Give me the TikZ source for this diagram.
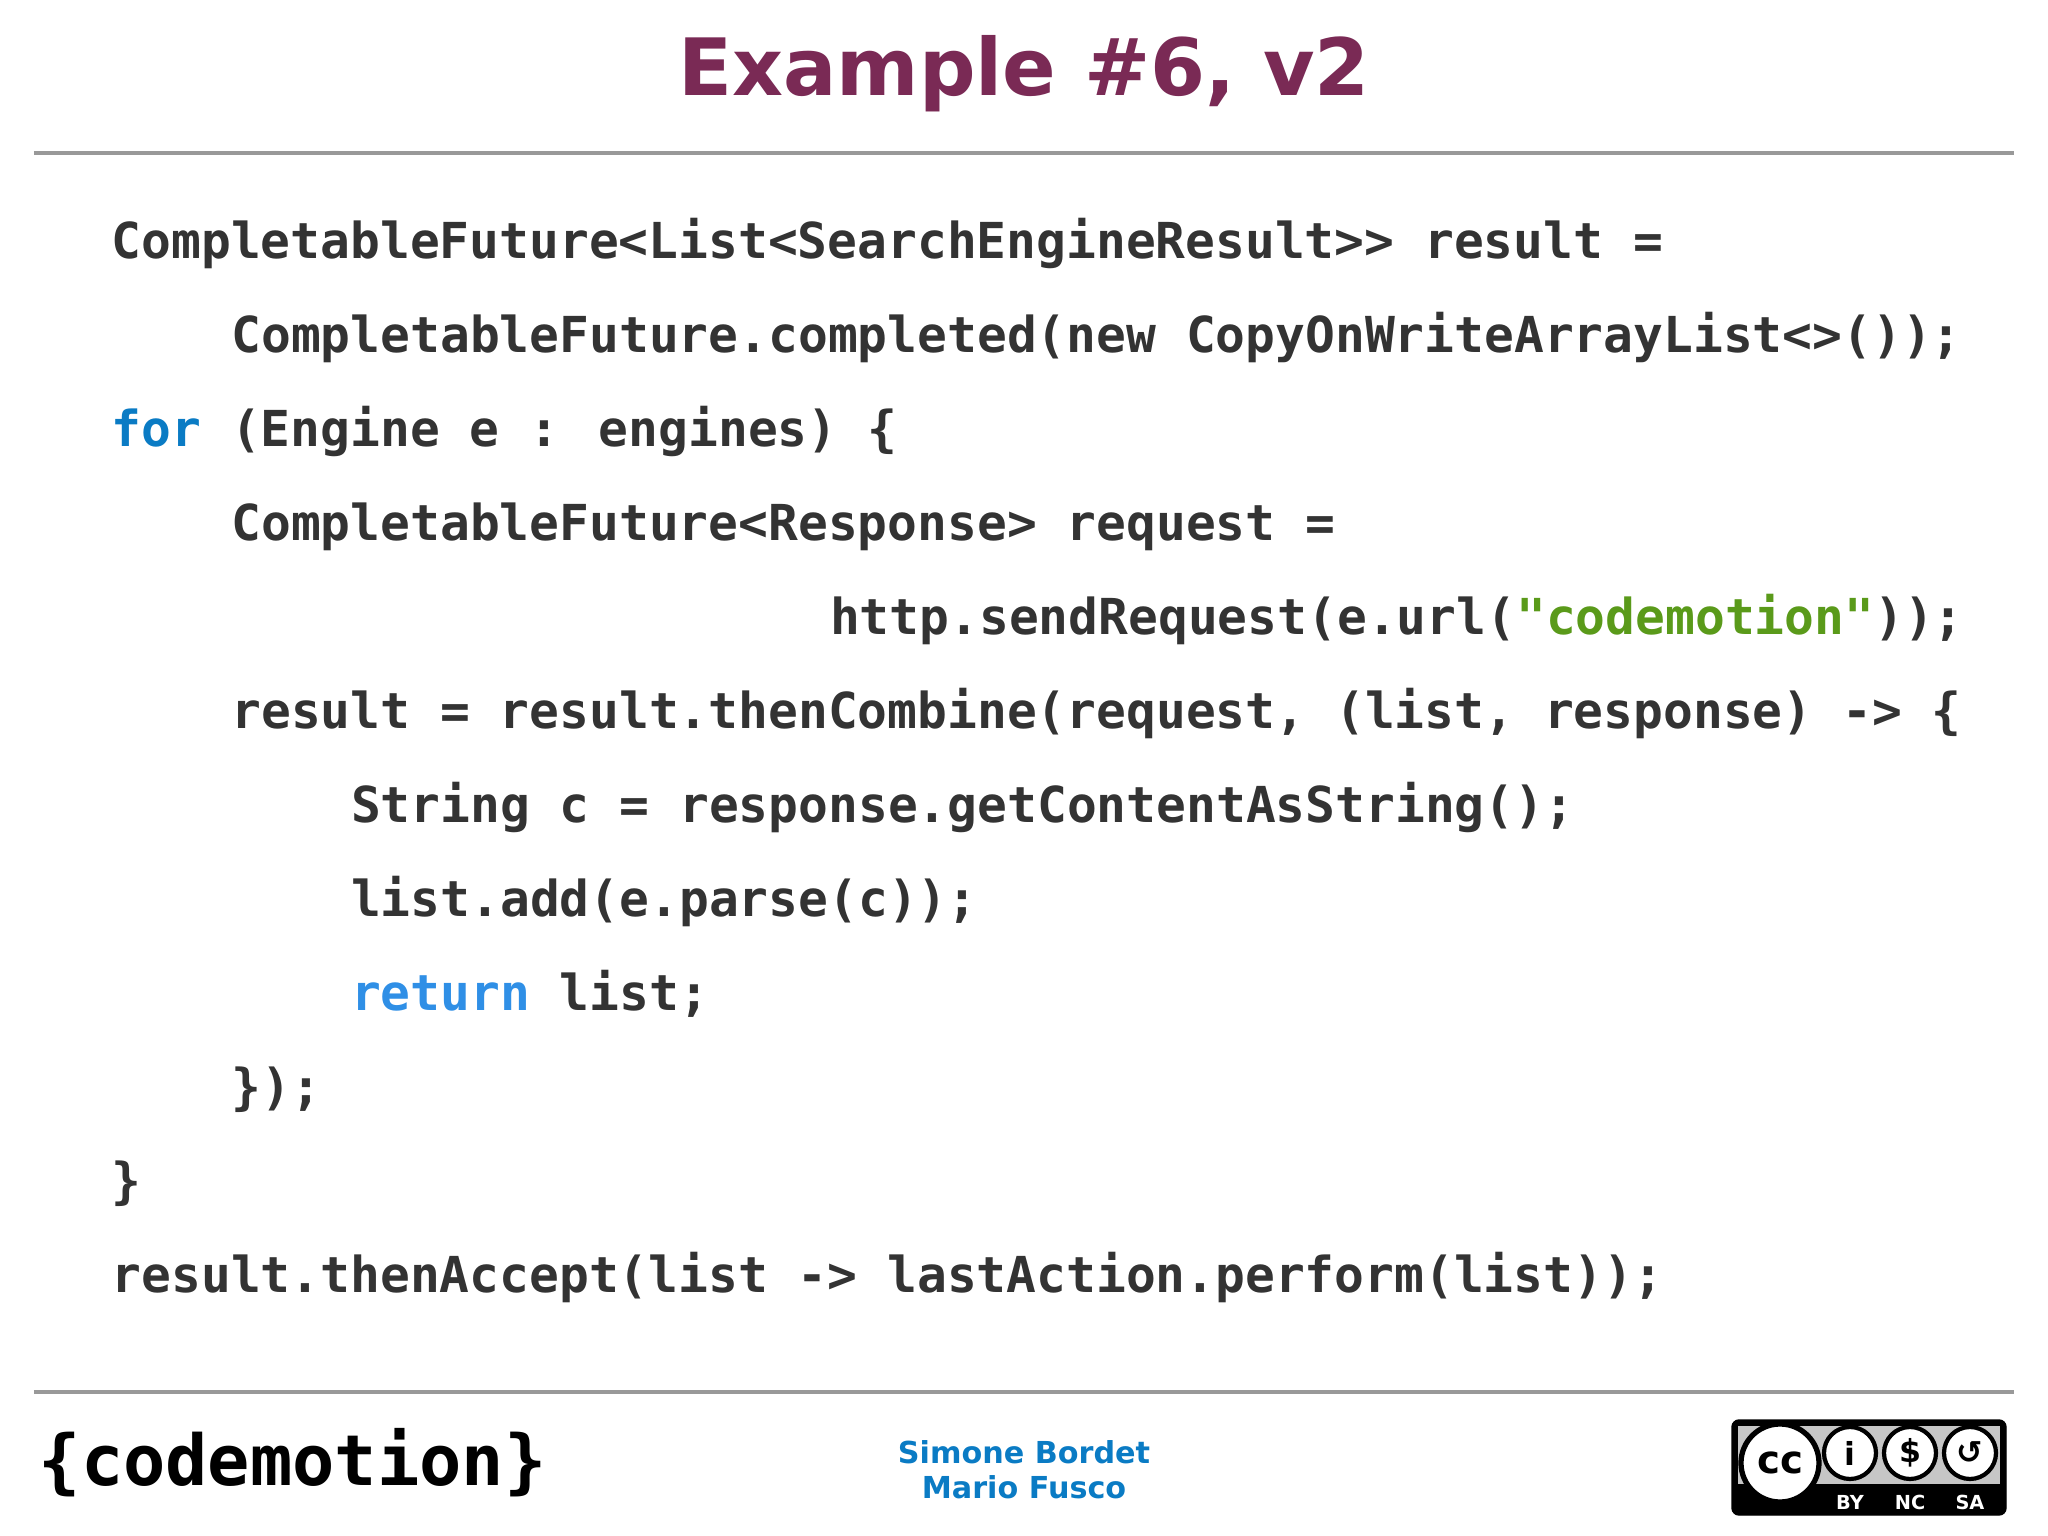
\documentclass[tikz,border=0pt]{standalone}
\usepackage{fontspec}
\newfontfamily\codefont{DejaVu Sans Mono}
\newfontfamily\sansb{DejaVu Sans}
\definecolor{titlec}{HTML}{7A2A55}
\definecolor{kw}{HTML}{0A7BC4}
\definecolor{kw2}{HTML}{2F8FE6}
\definecolor{strc}{HTML}{5A9A1A}
\definecolor{codec}{HTML}{333333}
\begin{document}
\begin{tikzpicture}[x=1cm,y=1cm,
  code/.style={anchor=base west,inner sep=0pt,font=\codefont\bfseries\fontsize{14.1pt}{16pt}\selectfont,text=codec},
  rule/.style={draw=gray!80,line width=1pt}]
\useasboundingbox[fill=white] (0,0) rectangle (20.48,-15.36);
\node[font=\sansb\bfseries\fontsize{22.5pt}{26pt}\selectfont,text=titlec] (title) at (10.24,-0.74) {Example \#6, v2};
\coordinate (l1a) at (0.34,-1.53); \coordinate (l1b) at (20.14,-1.53);
\draw[rule] (l1a) -- (l1b);
\def\cx#1{1.11+#1*0.2993}
\def\by#1{-2.586-#1*0.940}
\node[code] (c0) at ({\cx{0}},{\by{0}}) {CompletableFuture<List<SearchEngineResult>{}> result =};
\node[code] (c1) at ({\cx{4}},{\by{1}}) {CompletableFuture.completed(new CopyOnWriteArrayList<>());};
\node[code] (c2) at ({\cx{0}},{\by{2}}) {\textcolor{kw}{for} (Engine e : engines) \{};
\node[code] (c3) at ({\cx{4}},{\by{3}}) {CompletableFuture<Response> request =};
\node[code] (c4) at ({\cx{24}},{\by{4}}) {http.sendRequest(e.url(\textcolor{strc}{"codemotion"}));};
\node[code] (c5) at ({\cx{4}},{\by{5}}) {result = result.thenCombine(request, (list, response) -> \{};
\node[code] (c6) at ({\cx{8}},{\by{6}}) {String c = response.getContentAsString();};
\node[code] (c7) at ({\cx{8}},{\by{7}}) {list.add(e.parse(c));};
\node[code] (c8) at ({\cx{8}},{\by{8}}) {\textcolor{kw2}{return} list;};
\node[code] (c9) at ({\cx{4}},{\by{9}}) {\});};
\node[code] (c10) at ({\cx{0}},{\by{10}}) {\}};
\node[code] (c11) at ({\cx{0}},{\by{11}}) {result.thenAccept(list -> lastAction.perform(list));};
\coordinate (l2a) at (0.34,-13.92); \coordinate (l2b) at (20.14,-13.92);
\draw[rule] (l2a) -- (l2b);
\node[font=\codefont\bfseries\fontsize{20pt}{22pt}\selectfont,anchor=west,inner sep=0pt] (logo) at (0.38,-14.63) {\{codemotion\}};
\node[font=\sansb\bfseries\fontsize{8.6pt}{10pt}\selectfont,text=kw,align=center,inner sep=0pt] (names) at (10.24,-14.70) {Simone Bordet\\Mario Fusco};
% CC badge
\draw[rounded corners=2pt,fill=black] (17.32,-14.20) rectangle (20.06,-15.15);
\fill[gray!45] (17.38,-14.26) rectangle (20.00,-14.84);
\node[circle,fill=white,draw=black,line width=1.5pt,minimum size=0.78cm,inner sep=0pt,font=\sansb\bfseries\fontsize{11pt}{12pt}\selectfont] (cc) at (17.80,-14.63) {cc};
\foreach \n/\x in {by/18.50,nc/19.10,sa/19.70}{
  \node[circle,fill=white,draw=black,line width=1.2pt,minimum size=0.52cm,inner sep=0pt] (\n) at (\x,-14.53) {};}
\node[font=\sansb\bfseries\fontsize{9pt}{10pt}\selectfont] at (by) {i};
\node[font=\sansb\bfseries\fontsize{9pt}{10pt}\selectfont] at (nc) {\$};
\node[font=\sansb\bfseries\fontsize{9pt}{10pt}\selectfont] at (sa) {↺};
\foreach \n/\x/\t in {tby/18.50/BY,tnc/19.10/NC,tsa/19.70/SA}
  \node[text=white,font=\sansb\bfseries\fontsize{5.5pt}{6pt}\selectfont,inner sep=0pt] (\n) at (\x,-15.02) {\t};
\end{tikzpicture}
\end{document}
